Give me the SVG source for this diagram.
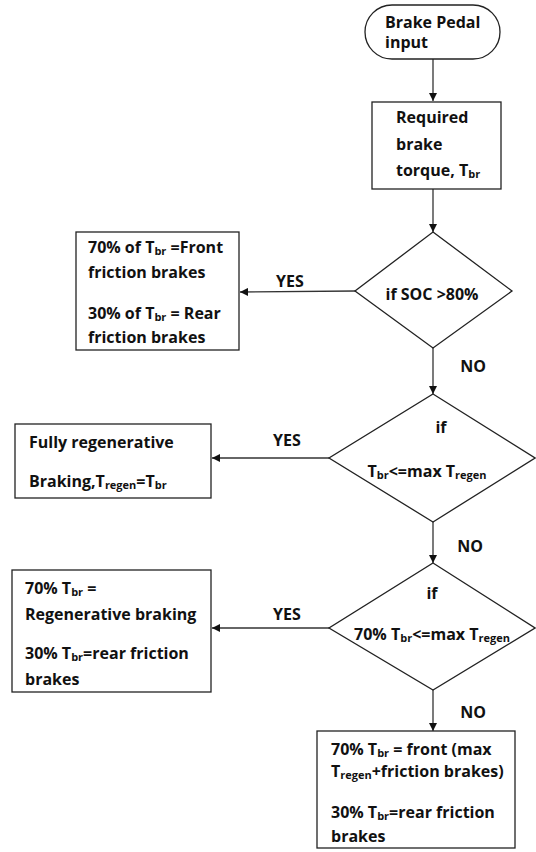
<svg xmlns="http://www.w3.org/2000/svg" width="536" height="852" viewBox="0 0 536 852">
<style>
.box{fill:#fff;stroke:#222;stroke-width:1.3}
.t{font-family:"Open Sans",Lato,sans-serif;font-weight:bold;font-size:16px;fill:#111}
.s{font-size:11px}
.ln{stroke:#333;stroke-width:1.3;fill:none}
</style>
<defs>
<marker id="ah" viewBox="0 0 10 10" refX="10" refY="5" markerWidth="8" markerHeight="8" markerUnits="userSpaceOnUse" orient="auto">
<path d="M0,0 L10,5 L0,10 Z" fill="#111"/>
</marker>
</defs>
<rect width="536" height="852" fill="#fff"/>
<g id="connectors">
<line class="ln" x1="433" y1="59" x2="433" y2="101" marker-end="url(#ah)"/>
<line class="ln" x1="433" y1="189" x2="433" y2="232" marker-end="url(#ah)"/>
<line class="ln" x1="355" y1="291" x2="240" y2="292" marker-end="url(#ah)"/>
<line class="ln" x1="433" y1="348" x2="433" y2="394" marker-end="url(#ah)"/>
<line class="ln" x1="329" y1="458" x2="212" y2="458" marker-end="url(#ah)"/>
<line class="ln" x1="433" y1="522" x2="433" y2="563" marker-end="url(#ah)"/>
<line class="ln" x1="329" y1="628" x2="212" y2="628" marker-end="url(#ah)"/>
<line class="ln" x1="433" y1="690" x2="433" y2="731" marker-end="url(#ah)"/>
<text class="t" x="290" y="287" text-anchor="middle">YES</text>
<text class="t" x="473" y="372" text-anchor="middle">NO</text>
<text class="t" x="287" y="446" text-anchor="middle">YES</text>
<text class="t" x="470" y="552" text-anchor="middle">NO</text>
<text class="t" x="287" y="620" text-anchor="middle">YES</text>
<text class="t" x="473" y="718" text-anchor="middle">NO</text>
</g>
<g id="start">
<rect class="box" x="365" y="5" width="135" height="54" rx="27" ry="27"/>
<text class="t" x="385" y="28">Brake Pedal</text>
<text class="t" x="385" y="48">input</text>
</g>
<g id="required">
<rect class="box" x="372" y="102" width="129" height="87"/>
<text class="t" x="396" y="123">Required</text>
<text class="t" x="396" y="150">brake</text>
<text class="t" x="396" y="176">torque, T<tspan class="s" dy="2">br</tspan></text>
</g>
<g id="soc">
<polygon class="box" points="433,232 512,291 433,348 355,291"/>
<text class="t" x="432" y="300" text-anchor="middle">if SOC &gt;80%</text>
</g>
<g id="friction">
<rect class="box" x="76" y="232" width="163" height="118"/>
<text class="t" x="88" y="253">70% of T<tspan class="s" dy="2">br</tspan><tspan dy="-2"> =Front</tspan></text>
<text class="t" x="88" y="278">friction brakes</text>
<text class="t" x="88" y="319">30% of T<tspan class="s" dy="2">br</tspan><tspan dy="-2"> = Rear</tspan></text>
<text class="t" x="88" y="343">friction brakes</text>
</g>
<g id="cond2">
<polygon class="box" points="433,394 535,458 433,522 329,458"/>
<text class="t" x="441" y="433" text-anchor="middle">if</text>
<text class="t" x="427" y="477" text-anchor="middle">T<tspan class="s" dy="2">br</tspan><tspan dy="-2">&lt;=max T</tspan><tspan class="s" dy="2">regen</tspan></text>
</g>
<g id="fullregen">
<rect class="box" x="15" y="424" width="196" height="74"/>
<text class="t" x="29" y="448">Fully regenerative</text>
<text class="t" x="29" y="487">Braking,T<tspan class="s" dy="2">regen</tspan><tspan dy="-2">=T</tspan><tspan class="s" dy="2">br</tspan></text>
</g>
<g id="cond3">
<polygon class="box" points="433,563 535,628 433,690 329,628"/>
<text class="t" x="432" y="599" text-anchor="middle">if</text>
<text class="t" x="432" y="640" text-anchor="middle">70% T<tspan class="s" dy="2">br</tspan><tspan dy="-2">&lt;=max T</tspan><tspan class="s" dy="2">regen</tspan></text>
</g>
<g id="partregen">
<rect class="box" x="12" y="570" width="199" height="122"/>
<text class="t" x="25" y="594">70% T<tspan class="s" dy="2">br</tspan><tspan dy="-2"> =</tspan></text>
<text class="t" x="25" y="620">Regenerative braking</text>
<text class="t" x="25" y="659">30% T<tspan class="s" dy="2">br</tspan><tspan dy="-2">=rear friction</tspan></text>
<text class="t" x="25" y="685">brakes</text>
</g>
<g id="front">
<rect class="box" x="317" y="731" width="198" height="117"/>
<text class="t" x="331" y="755">70% T<tspan class="s" dy="2">br</tspan><tspan dy="-2"> = front (max</tspan></text>
<text class="t" x="331" y="777">T<tspan class="s" dy="2">regen</tspan><tspan dy="-2">+friction brakes)</tspan></text>
<text class="t" x="331" y="818">30% T<tspan class="s" dy="2">br</tspan><tspan dy="-2">=rear friction</tspan></text>
<text class="t" x="331" y="842">brakes</text>
</g>
</svg>
